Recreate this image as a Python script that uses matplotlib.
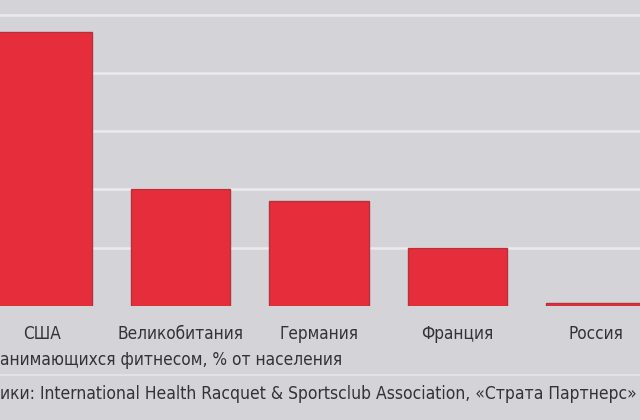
import numpy as np
import matplotlib
matplotlib.use('Agg')
import matplotlib.pyplot as plt

# данные (шкала без подписей, значения оценены по высоте столбцов)
countries = ['США', 'Великобитания', 'Германия', 'Франция', 'Россия']
share = [23.5, 10.0, 9.0, 5.0, 0.25]
grid_ticks = [5, 10, 15, 20, 25]

caption = 'анимающихся фитнесом, % от населения'
source = 'ики: International Health Racquet & Sportsclub Association, «Страта Партнерс»'

bg = '#d4d3d8'
bar_color = '#e52d3b'
text_color = '#323238'
plt.rcParams['font.family'] = ['DejaVu Sans']
plt.rcParams['font.stretch'] = 'condensed'

fig = plt.figure(figsize=(6.4, 4.2), dpi=100, facecolor=bg)
ax = fig.add_axes([0, (420 - 306) / 420, 1, 306 / 420])
ax.set_facecolor(bg)

x = np.arange(len(countries))
ax.bar(x, share, width=0.72, color=bar_color, edgecolor='#b8303c', linewidth=1, zorder=3)

ax.set_yticks(grid_ticks)
ax.yaxis.grid(True, color='#ebebef', linewidth=1.8, zorder=0)
ax.set_ylim(0, 306 / 58.3 * 5)
ax.set_xlim(-42 / 138.5, 598 / 138.5)
ax.tick_params(left=False, bottom=False, labelleft=False, labelbottom=False)
for s in ax.spines.values():
    s.set_visible(False)

for xi, name in zip(x, countries):
    fig.text((42 + 138.5 * xi) / 640, 0.205, name, ha='center', va='center',
             fontsize=12.3, color=text_color, stretch='condensed')

fig.text(0.0, 0.143, caption, ha='left', va='center', fontsize=12.4,
         color=text_color, stretch='condensed')
fig.add_artist(plt.Line2D([0, 1], [0.108, 0.108], color='#e6e6ea', linewidth=1.2))
fig.text(0.0, 0.062, source, ha='left', va='center', fontsize=12.5,
         color=text_color, stretch='condensed')

fig.savefig('out.png', dpi=100, facecolor=bg)
